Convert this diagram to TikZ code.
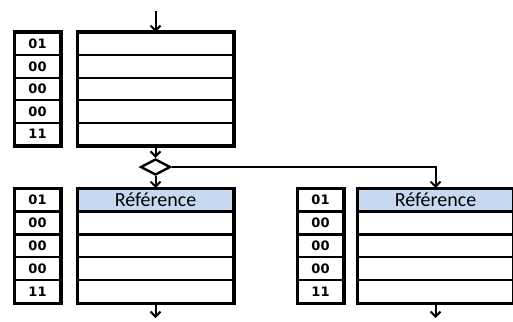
\documentclass[tikz,border=0pt]{standalone}
\usepackage{fontspec}
\setmainfont{Carlito}
\newfontfamily\labfont{DejaVu Sans}
\usetikzlibrary{arrows.meta,shapes.geometric}
\definecolor{headblue}{HTML}{C6D9F1}
\begin{document}
\begin{tikzpicture}[x=1pt,y=-1pt,
  cellbase/.style={draw,line width=2pt,minimum height=22.4pt,inner sep=0pt,anchor=north west},
  lab/.style={cellbase,minimum width=45pt,font=\labfont\fontsize{13}{13}\selectfont\bfseries},
  rowbox/.style={cellbase,minimum width=155pt},
  head/.style={rowbox,fill=headblue,font=\fontsize{20}{20}\selectfont},
  outer/.style={draw,line width=3pt},
  arr/.style={line width=2pt,-{Straight Barb[length=5pt,width=10pt,line width=2pt]}},
  dec/.style={draw,shape=diamond,aspect=2,minimum width=30pt,minimum height=16pt,inner sep=0pt,line width=2.4pt}]
\useasboundingbox (0,0) rectangle (513,321);
% top stack
\foreach \i/\t in {1/01,2/00,3/00,4/00,5/11} {
  \node[lab] (tl\i) at (14,{32+(\i-1)*22.4}) {\t};
  \node[rowbox] (tm\i) at (77,{32+(\i-1)*22.4}) {};
}
\draw[outer] (tl1.north west) rectangle (tl5.south east);
\draw[outer] (tm1.north west) rectangle (tm5.south east);
% lower left stack
\foreach \i/\t in {1/01,2/00,3/00,4/00,5/11} {
  \node[lab] (ll\i) at (14,{188+(\i-1)*22.8}) {\t};
}
\node[head] (lm1) at (77,188) {Référence};
\foreach \i in {2,3,4,5} {
  \node[rowbox] (lm\i) at (77,{188+(\i-1)*22.8}) {};
}
\draw[outer] (ll1.north west) rectangle (ll5.south east);
\draw[outer] (lm1.north west) rectangle (lm5.south east);
% lower right stack
\foreach \i/\t in {1/01,2/00,3/00,4/00,5/11} {
  \node[lab] (rl\i) at (297,{188+(\i-1)*22.8}) {\t};
}
\node[head] (rm1) at (357,188) {Référence};
\foreach \i in {2,3,4,5} {
  \node[rowbox] (rm\i) at (357,{188+(\i-1)*22.8}) {};
}
\draw[outer] (rl1.north west) rectangle (rl5.south east);
\draw[outer] (rm1.north west) rectangle (rm5.south east);
% decision
\node[dec] (d) at (tm5.south |- 0,167) {};
% connectors
\coordinate (in) at (tm1.north |- 0,11);
\coordinate (outl) at (lm5.south |- 0,318);
\coordinate (outr) at (rm5.south |- 0,318);
\draw[arr] (in) -- (tm1.north);
\draw[arr] (tm5.south) -- (d.north);
\draw[arr] (d.south) -- (lm1.north);
\draw[arr] (d.east) -| (rm1.north);
\draw[arr] (lm5.south) -- (outl);
\draw[arr] (rm5.south) -- (outr);
\end{tikzpicture}
\end{document}
